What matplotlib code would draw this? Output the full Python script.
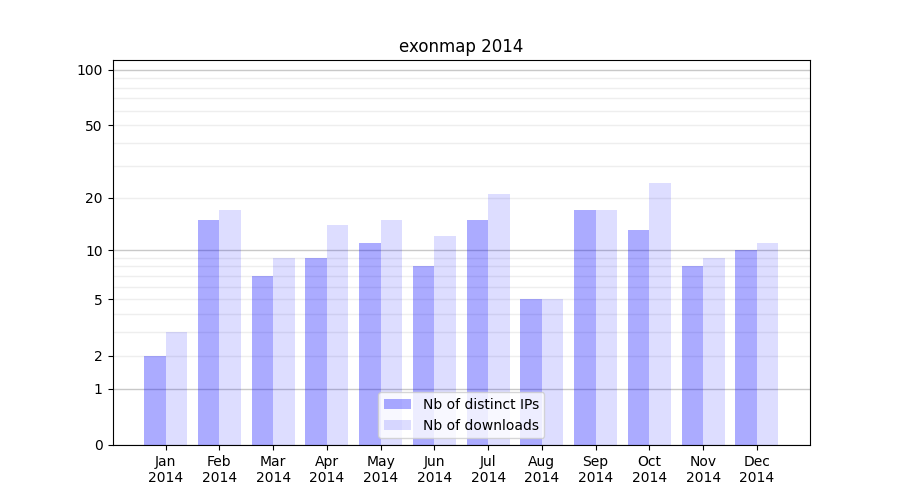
import numpy as np
import matplotlib
matplotlib.use("Agg")
import matplotlib.pyplot as plt
from matplotlib.ticker import FixedLocator, FuncFormatter

months = ["Jan", "Feb", "Mar", "Apr", "May", "Jun", "Jul", "Aug", "Sep", "Oct", "Nov", "Dec"]
year = "2014"
ips = [2, 15, 7, 9, 11, 8, 15, 5, 17, 13, 8, 10]
downloads = [3, 17, 9, 14, 15, 12, 21, 5, 17, 24, 9, 11]
major_ticks = [0, 1, 10, 100]
minor_ticks = [2, 3, 4, 5, 6, 7, 8, 9, 20, 30, 40, 50, 60, 70, 80, 90]
minor_labeled = [2, 5, 20, 50]

fig, ax = plt.subplots(figsize=(9, 5), dpi=100)
ax.set_yscale("function", functions=(lambda y: np.log10(np.maximum(y, 0) + 1),
                                     lambda y: 10 ** y - 1))
x = np.arange(len(months))
w = 0.4
ax.bar(x - w / 2, ips, w, color="blue", alpha=0.33, label="Nb of distinct IPs", zorder=3)
ax.bar(x + w / 2, downloads, w, color="blue", alpha=0.135, label="Nb of downloads", zorder=3)

ax.yaxis.set_major_locator(FixedLocator(major_ticks))
ax.yaxis.set_minor_locator(FixedLocator(minor_ticks))
ax.yaxis.set_major_formatter(FuncFormatter(lambda v, p: f"{int(v)}"))
ax.yaxis.set_minor_formatter(FuncFormatter(lambda v, p: f"{int(v)}" if int(round(v)) in minor_labeled else ""))
ax.tick_params(axis="y", which="minor", length=3.5, width=0.8)
for t in ax.yaxis.get_minor_ticks():
    pass
ax.grid(True, axis="y", which="major", color="#c8c8c8", linewidth=1, zorder=0)
ax.grid(True, axis="y", which="minor", color="#eeeeee", linewidth=1, zorder=0)
ax.set_axisbelow(True)

# hide minor tick marks at unlabeled positions
for tick, val in zip(ax.yaxis.get_minor_ticks(), minor_ticks):
    if val not in minor_labeled:
        tick.tick1line.set_visible(False)

ax.set_ylim(0, 113)
ax.set_xticks(x)
ax.set_xticklabels([f"{m}\n{year}" for m in months])
ax.set_title("exonmap 2014")
ax.legend(loc="lower center")
fig.savefig("out.png", dpi=100)
